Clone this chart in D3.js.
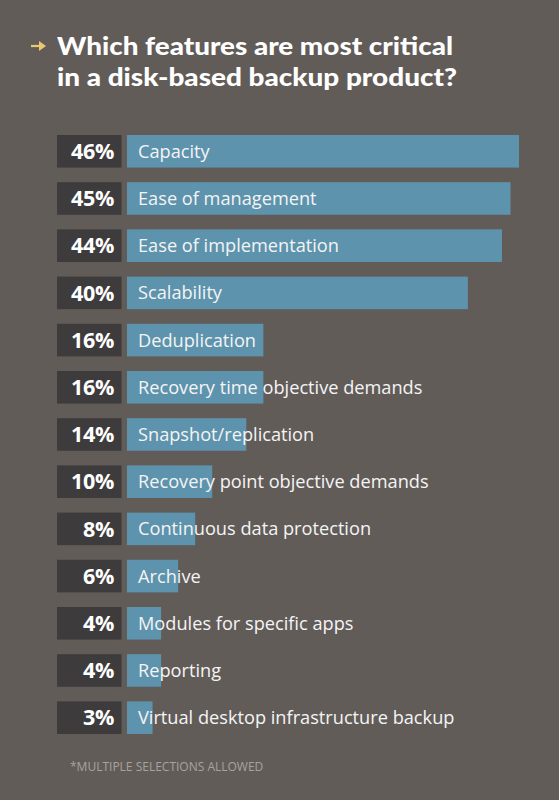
<!DOCTYPE html>
<html>
<head>
<meta charset="utf-8">
<script src="https://cdn.jsdelivr.net/npm/d3@7"></script>
<style>
  html, body { margin: 0; padding: 0; background: #625c59; }
  svg { display: block; }
</style>
</head>
<body>
<div id="chart"></div>
<script>
// data
const features = [
  "Capacity",
  "Ease of management",
  "Ease of implementation",
  "Scalability",
  "Deduplication",
  "Recovery time objective demands",
  "Snapshot/replication",
  "Recovery point objective demands",
  "Continuous data protection",
  "Archive",
  "Modules for specific apps",
  "Reporting",
  "Virtual desktop infrastructure backup"
];
const percents = [46, 45, 44, 40, 16, 16, 14, 10, 8, 6, 4, 4, 3];
const titleLines = ["Which features are most critical", "in a disk-based backup product?"];
const footnote = "*MULTIPLE SELECTIONS ALLOWED";

const size = {width: 559, height: 800};
const margin = {top: 135, left: 127, right: 40, bottom: 66};

const svg = d3.select("#chart").append("svg")
    .attr("width", size.width)
    .attr("height", size.height);

svg.append("rect")
    .attr("width", size.width)
    .attr("height", size.height)
    .attr("fill", "#625c59");

// title + little arrow
const arrow = svg.append("g").attr("transform", "translate(31,46)");
arrow.append("line")
    .attr("x1", 0).attr("y1", 0).attr("x2", 12).attr("y2", 0)
    .attr("stroke", "#e8c873").attr("stroke-width", 2.2);
arrow.append("path")
    .attr("d", "M8,-5 L15,0 L8,5 Z")
    .attr("fill", "#e8c873");

const title = svg.append("g").selectAll("text")
    .data(titleLines)
    .join("text")
    .attr("x", 57)
    .attr("y", (d, i) => 55 + i * 31)
    .attr("fill", "#ffffff")
    .attr("font-family", "Lato, sans-serif")
    .attr("font-weight", 900)
    .attr("font-size", 25)
    .text(d => d);

// stretch the first line to the width it has in the reference
title.filter((d, i) => i === 0)
    .attr("textLength", 396)
    .attr("lengthAdjust", "spacingAndGlyphs");
title.filter((d, i) => i === 1)
    .attr("textLength", 400)
    .attr("lengthAdjust", "spacingAndGlyphs");

// scales
const rows = features.map((f, i) => ({name: f, value: percents[i]}));

const xScale = d3.scaleLinear()
    .domain([0, 46])
    .range([margin.left, 519]);

const step = 47.2, pad = 0.31;
const yScale = d3.scaleBand()
    .domain(features)
    .range([margin.top, margin.top + step * (features.length - pad)])
    .paddingInner(pad)
    .paddingOuter(0);

const barG = svg.append("g").attr("class", "bars")
    .selectAll(".barG")
    .data(rows)
    .join("g")
    .attr("class", "barG")
    .attr("transform", d => "translate(0," + yScale(d.name) + ")");

// dark value box
barG.append("rect")
    .attr("x", 57)
    .attr("width", 64.5)
    .attr("height", yScale.bandwidth())
    .attr("fill", "#3d3b3c");

barG.append("text")
    .attr("x", 114)
    .attr("y", yScale.bandwidth() / 2)
    .attr("dy", "0.36em")
    .attr("text-anchor", "end")
    .attr("fill", "#ffffff")
    .attr("font-family", "'Open Sans', sans-serif")
    .attr("font-weight", 700)
    .attr("font-size", 21.5)
    .attr("letter-spacing", -0.3)
    .text(d => d.value + "%");

barG.append("rect")
    .attr("class", "barRect")
    .attr("x", xScale(0))
    .attr("width", d => xScale(d.value) - xScale(0))
    .attr("height", yScale.bandwidth())
    .attr("fill", "#5e93ad");

barG.append("text")
    .attr("x", 138)
    .attr("y", yScale.bandwidth() / 2)
    .attr("dy", "0.36em")
    .attr("fill", "#f4f4f4")
    .attr("font-family", "'Open Sans', sans-serif")
    .attr("font-size", 18.2)
    .text(d => d.name);

svg.append("text")
    .attr("x", 70)
    .attr("y", 771)
    .attr("fill", "#a8a29e")
    .attr("font-family", "'Open Sans', sans-serif")
    .attr("font-size", 12)
    .text(footnote);
</script>
</body>
</html>
